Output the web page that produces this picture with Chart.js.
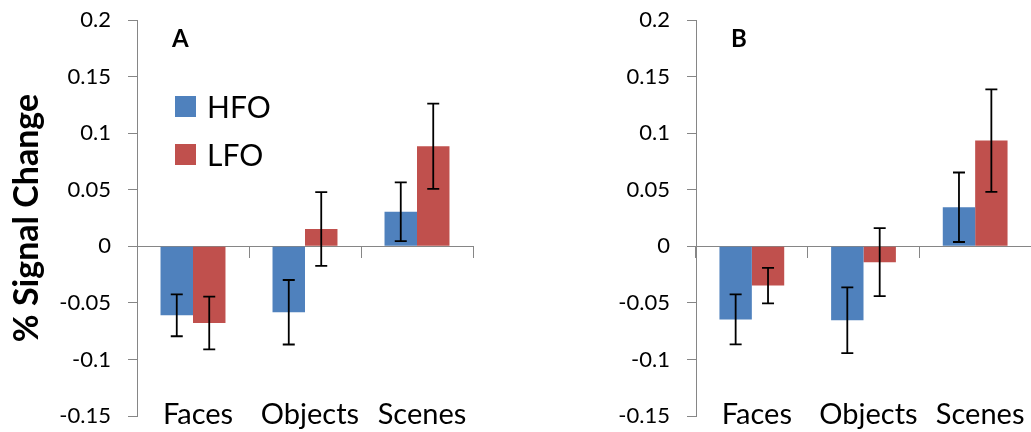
<!DOCTYPE html>
<html>
<head>
<meta charset="utf-8">
<script src="https://cdn.jsdelivr.net/npm/chart.js@4.4.1/dist/chart.umd.min.js"></script>
<style>
  html, body { margin: 0; padding: 0; background: #fff; }
  .panel { position: absolute; top: 0; }
  #panelA { left: 0; }
  #panelB { left: 520px; }
</style>
</head>
<body>
<div class="panel" id="panelA"><canvas id="chartA" width="520" height="432"></canvas></div>
<div class="panel" id="panelB"><canvas id="chartB" width="511" height="432"></canvas></div>
<script>
// ---- data ----
const categories = ['Faces', 'Objects', 'Scenes'];
const seriesNames = ['HFO', 'LFO'];

// panel A
const hfoA = [-0.061, -0.0583, 0.0305];
const hfoErrA = [0.0185, 0.0285, 0.026];
const lfoA = [-0.0678, 0.0152, 0.0884];
const lfoErrA = [0.0233, 0.0326, 0.0377];

// panel B
const hfoB = [-0.0646, -0.0654, 0.0345];
const hfoErrB = [0.0221, 0.029, 0.0307];
const lfoB = [-0.0347, -0.014, 0.0934];
const lfoErrB = [0.0157, 0.030, 0.0453];

const yTickLabels = ['-0.15', '-0.1', '-0.05', '0', '0.05', '0.1', '0.15', '0.2'];

const BLUE = '#4F81BD';
const RED = '#C0504D';
const AXIS_GREY = '#868686';
const FONT = 'Lato';

//////////////////////////// error bars ////////////////////////////
const errorBarPlugin = {
  id: 'errorBars',
  afterDatasetsDraw(chart) {
    const ctx = chart.ctx;
    const yScale = chart.scales.y;
    ctx.save();
    ctx.strokeStyle = '#000';
    ctx.lineWidth = 1.8;
    chart.data.datasets.forEach((ds, i) => {
      const meta = chart.getDatasetMeta(i);
      meta.data.forEach((bar, j) => {
        const v = ds.data[j];
        const e = ds.errors[j];
        const yTop = yScale.getPixelForValue(v + e);
        const yBot = yScale.getPixelForValue(v - e);
        const x = bar.x;
        ctx.beginPath();
        ctx.moveTo(x, yTop);
        ctx.lineTo(x, yBot);
        ctx.moveTo(x - 6, yTop);
        ctx.lineTo(x + 6, yTop);
        ctx.moveTo(x - 6, yBot);
        ctx.lineTo(x + 6, yBot);
        ctx.stroke();
      });
    });
    ctx.restore();
  }
};

//////////////////////////// panel letter + legend ////////////////////////////
const decorPlugin = {
  id: 'decor',
  afterDraw(chart, args, opts) {
    const ctx = chart.ctx;
    const area = chart.chartArea;
    ctx.save();
    ctx.fillStyle = '#000';
    ctx.textBaseline = 'alphabetic';
    ctx.font = 'bold 24px ' + FONT;
    ctx.fillText(opts.letter, area.left + 35, 47);
    if (opts.legend) {
      ctx.font = '30px ' + FONT;
      chart.data.datasets.forEach((ds, i) => {
        const top = 96 + i * 48;
        ctx.fillStyle = ds.backgroundColor;
        ctx.fillRect(area.left + 38, top, 21, 21);
        ctx.fillStyle = '#000';
        ctx.fillText(ds.label, area.left + 70, top + 22);
      });
    }
    ctx.restore();
  }
};

function makeChart(canvasId, hfo, hfoErr, lfo, lfoErr, opts) {
  const ctx = document.getElementById(canvasId).getContext('2d');
  return new Chart(ctx, {
    type: 'bar',
    data: {
      labels: categories,
      datasets: [
        { label: seriesNames[0], data: hfo, errors: hfoErr, backgroundColor: BLUE },
        { label: seriesNames[1], data: lfo, errors: lfoErr, backgroundColor: RED }
      ]
    },
    options: {
      responsive: false,
      animation: false,
      devicePixelRatio: 1,
      layout: { padding: { top: 20, right: opts.rightPad, bottom: 0, left: 0 } },
      categoryPercentage: 0.58,
      barPercentage: 1.0,
      plugins: {
        legend: { display: false },
        tooltip: { enabled: false },
        decor: { letter: opts.letter, legend: opts.legend }
      },
      scales: {
        x: {
          position: 'bottom',
          offset: true,
          grid: { display: false, drawTicks: false },
          border: { display: false },
          ticks: {
            color: '#000',
            mirror: true,
            padding: -16,
            labelOffset: 5,
            maxRotation: 0,
            autoSkip: false,
            font: { family: FONT, size: 29 }
          },
          afterFit(scale) { scale.height = 16; }
        },
        x2: {
          type: 'category',
          axis: 'x',
          labels: categories,
          position: { y: 0 },
          offset: true,
          grid: {
            display: true,
            offset: true,
            drawOnChartArea: false,
            drawTicks: true,
            tickLength: 11,
            color: AXIS_GREY,
            lineWidth: 1
          },
          border: { display: true, color: AXIS_GREY, width: 1 },
          ticks: { display: false }
        },
        y: {
          min: -0.15,
          max: 0.2,
          ticks: {
            stepSize: 0.05,
            color: '#000',
            padding: 17,
            font: { family: FONT, size: 22 },
            callback: (value, index) => yTickLabels[index]
          },
          grid: {
            display: true,
            drawOnChartArea: false,
            drawTicks: true,
            tickLength: 9,
            color: AXIS_GREY,
            lineWidth: 1
          },
          border: { display: true, color: AXIS_GREY, width: 1 },
          title: {
            display: opts.yTitle,
            text: '% Signal Change',
            color: '#000',
            font: { family: FONT, size: 34, weight: 'bold' },
            padding: { top: 7, bottom: 0 }
          },
          afterFit(scale) {
            scale.width = opts.yWidth;
            scale.paddingTop = 0;
            scale.paddingBottom = 0;
          }
        }
      }
    },
    plugins: [errorBarPlugin, decorPlugin]
  });
}

makeChart('chartA', hfoA, hfoErrA, lfoA, lfoErrA,
  { letter: 'A', legend: true, yTitle: true, yWidth: 137, rightPad: 47 });
makeChart('chartB', hfoB, hfoErrB, lfoB, lfoErrB,
  { letter: 'B', legend: false, yTitle: false, yWidth: 176, rightPad: 0 });
</script>
</body>
</html>
